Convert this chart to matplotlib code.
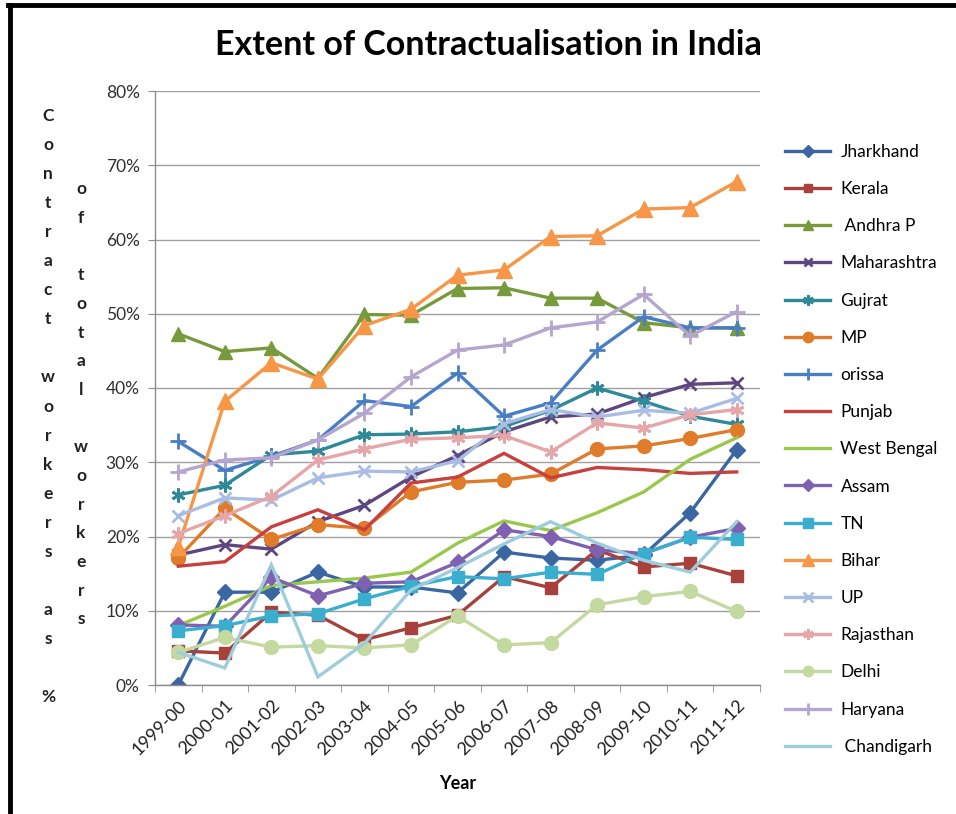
import matplotlib
matplotlib.use("Agg")
import matplotlib.pyplot as plt
from matplotlib.lines import Line2D
from matplotlib.ticker import FuncFormatter, FixedLocator

years = ["1999-00", "2000-01", "2001-02", "2002-03", "2003-04", "2004-05", "2005-06",
         "2006-07", "2007-08", "2008-09", "2009-10", "2010-11", "2011-12"]

jharkhand   = [0.0, 12.5, 12.5, 15.2, 13.2, 13.2, 12.4, 17.9, 17.1, 16.8, 17.5, 23.2, 31.7]
kerala      = [4.6, 4.3, 9.8, 9.4, 6.1, 7.7, 9.4, 14.6, 13.1, 18.2, 15.9, 16.4, 14.7]
andhra      = [47.3, 44.9, 45.4, 41.3, 49.9, 49.8, 53.4, 53.5, 52.1, 52.1, 48.8, 48.1, 48.1]
maharashtra = [17.5, 18.9, 18.3, 22.0, 24.2, 28.0, 30.9, 34.1, 36.1, 36.5, 38.7, 40.5, 40.7]
gujrat      = [25.6, 26.9, 31.0, 31.5, 33.7, 33.8, 34.1, 34.8, 37.0, 40.0, 38.2, 36.2, 35.1]
mp          = [17.1, 23.8, 19.6, 21.6, 21.1, 26.0, 27.3, 27.6, 28.4, 31.8, 32.2, 33.2, 34.4]
orissa      = [32.8, 28.9, 30.8, 33.0, 38.3, 37.5, 42.0, 36.2, 38.0, 45.1, 49.6, 48.1, 48.1]
punjab      = [16.0, 16.6, 21.3, 23.6, 20.9, 27.2, 28.0, 31.2, 27.9, 29.3, 29.0, 28.5, 28.7]
west_bengal = [8.0, 10.6, 13.4, 13.9, 14.4, 15.2, 19.1, 22.1, 20.8, 23.2, 26.0, 30.4, 33.3]
assam       = [8.1, 7.9, 14.5, 12.0, 13.7, 13.9, 16.5, 20.9, 20.0, 18.2, 17.7, 19.9, 21.1]
tn          = [7.3, 8.0, 9.3, 9.6, 11.6, 13.3, 14.6, 14.3, 15.2, 14.9, 17.7, 19.9, 19.6]
bihar       = [18.6, 38.2, 43.4, 41.2, 48.4, 50.6, 55.2, 55.9, 60.4, 60.5, 64.1, 64.3, 67.8]
up          = [22.8, 25.2, 24.9, 27.9, 28.8, 28.7, 30.2, 35.2, 37.1, 36.1, 37.0, 36.6, 38.6]
rajasthan   = [20.4, 22.8, 25.4, 30.3, 31.8, 33.1, 33.3, 33.6, 31.4, 35.3, 34.6, 36.4, 37.1]
delhi       = [4.4, 6.4, 5.1, 5.3, 5.0, 5.4, 9.3, 5.4, 5.7, 10.8, 11.9, 12.6, 9.9]
haryana     = [28.7, 30.3, 30.6, 33.0, 36.6, 41.5, 45.1, 45.8, 48.1, 48.9, 52.6, 47.0, 50.3]
chandigarh  = [4.4, 2.3, 16.2, 1.1, 5.6, 12.8, 15.8, 19.0, 22.0, 19.1, 16.8, 15.2, 22.0]

series_names = ["Jharkhand", "Kerala", " Andhra P", "Maharashtra", "Gujrat", "MP", "orissa",
                "Punjab", "West Bengal", "Assam", "TN", "Bihar", "UP", "Rajasthan", "Delhi",
                "Haryana", " Chandigarh"]
series_values = [jharkhand, kerala, andhra, maharashtra, gujrat, mp, orissa, punjab,
                 west_bengal, assam, tn, bihar, up, rajasthan, delhi, haryana, chandigarh]

star = (6, 2, 0)
styles = [
    ("#3A66A2", "D", 8),
    ("#A8403C", "s", 8),
    ("#779A3C", "^", 10),
    ("#5E4680", "x", 8),
    ("#2E8A98", star, 10),
    ("#E07B2A", "o", 10),
    ("#4A7EC4", "+", 11),
    ("#C8403E", None, 0),
    ("#9AC84A", None, 0),
    ("#8060B0", "D", 8),
    ("#3AAECE", "s", 9),
    ("#F79646", "^", 11),
    ("#A9BCE2", "x", 9),
    ("#E6A5A8", star, 10),
    ("#C3D9A0", "o", 10),
    ("#B4A6CE", "+", 11),
    ("#9DCDDC", None, 0),
]

plt.rcParams['font.family'] = ['Lato', 'DejaVu Sans']

fig = plt.figure(figsize=(9.56, 8.14), dpi=100)
ax = fig.add_axes([155/956, 1-685/814, (760-155)/956, (685-91)/814])

x = list(range(len(years)))
handles = []
for name, vals, (c, m, ms) in zip(series_names, series_values, styles):
    kw = dict(color=c, lw=2.4, label=name, solid_joinstyle='miter')
    if m is not None:
        mew = 2.0 if m in ("x", "+", star) else 1.0
        kw.update(marker=m, markersize=ms, markerfacecolor=c, markeredgecolor=c, markeredgewidth=mew)
    h, = ax.plot(x, [v/100 for v in vals], **kw)
    handles.append(h)

ax.set_ylim(0, 0.8)
ax.set_xlim(-0.5, len(years)-0.5)
ax.set_yticks([i/10 for i in range(9)])
ax.yaxis.set_major_formatter(FuncFormatter(lambda v, p: f"{int(round(v*100))}%"))
ax.grid(axis='y', color='#A0A0A0', lw=1.0)
ax.set_axisbelow(True)
for s in ["top", "right"]:
    ax.spines[s].set_visible(False)
for s in ["left", "bottom"]:
    ax.spines[s].set_color('#8C8C8C')
    ax.spines[s].set_linewidth(1.0)

ax.set_xticks(x)
ax.set_xticklabels(years, rotation=45, ha='right', rotation_mode='anchor', fontsize=13, color='#202020')
ax.tick_params(axis='x', which='major', length=0, pad=9)
ax.xaxis.set_minor_locator(FixedLocator([i - 0.5 for i in range(len(years)+1)]))
ax.tick_params(axis='x', which='minor', length=5, color='#8C8C8C', direction='out')
ax.tick_params(axis='y', length=5, color='#8C8C8C', labelsize=12.5, labelcolor='#303030', pad=6)

ax.set_xlabel("Year", fontsize=13, fontweight='bold', labelpad=12)

fig.text(488/956, 1-45/814, "Extent of Contractualisation in India", ha='center', va='center',
         fontsize=24.5, fontweight='bold', color='black')

col1 = "Contract workers as %"
col2 = "of total workers"
for i, ch in enumerate(col1):
    if ch != " ":
        fig.text(48/956, 1-(116 + i*29.05)/814, ch, ha='center', va='center', fontsize=12.5,
                 fontweight='bold', color='#202020')
for i, ch in enumerate(col2):
    if ch != " ":
        fig.text(81/956, 1-(189 + i*28.7)/814, ch, ha='center', va='center', fontsize=12.5,
                 fontweight='bold', color='#202020')

leg = fig.legend(handles=handles, loc='upper left', bbox_to_anchor=(778/956, 1-137/814),
                 frameon=False, fontsize=12.5, handlelength=2.6, labelspacing=1.22,
                 handletextpad=0.6, borderaxespad=0)
for h in leg.legend_handles:
    h.set_markersize(h.get_markersize()*0.75)

fig.add_artist(Line2D([8/956, 1], [1-5/814, 1-5/814], color='black', lw=3.5, transform=fig.transFigure))
fig.add_artist(Line2D([10/956, 10/956], [0, 1-5/814], color='black', lw=3.5, transform=fig.transFigure))

fig.savefig("out.png", dpi=100)
